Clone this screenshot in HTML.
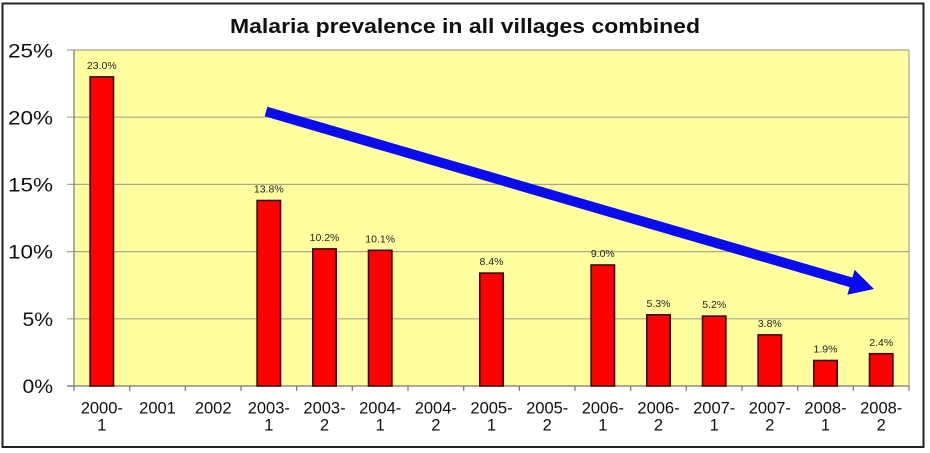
<!DOCTYPE html>
<html><head><meta charset="utf-8"><style>
html,body{margin:0;padding:0;background:#fff;}
svg{display:block;}
text{font-family:"Liberation Sans",Arial,sans-serif;}
</style></head><body>
<svg width="930" height="453" viewBox="0 0 930 453" xmlns="http://www.w3.org/2000/svg">
<rect x="0" y="0" width="930" height="453" fill="#fff"/>
<rect x="2.5" y="3.5" width="921" height="443.5" fill="#fff" stroke="#222" stroke-width="2"/>
<text x="465" y="33" text-anchor="middle" font-size="20" font-weight="bold" fill="#111" textLength="470" lengthAdjust="spacingAndGlyphs">Malaria prevalence in all villages combined</text>
<!-- plot area -->
<rect x="74" y="50" width="835" height="336" fill="#ffffa0"/>
<g stroke="#a9a78a" stroke-width="1.2">
<line x1="67" y1="50" x2="909" y2="50"/>
<line x1="67" y1="117.2" x2="909" y2="117.2"/>
<line x1="67" y1="184.4" x2="909" y2="184.4"/>
<line x1="67" y1="251.6" x2="909" y2="251.6"/>
<line x1="67" y1="318.8" x2="909" y2="318.8"/>
<line x1="909" y1="50" x2="909" y2="386"/>
</g>
<g stroke="#777" stroke-width="1.2">
<line x1="74" y1="50" x2="74" y2="391"/>
<line x1="67" y1="386" x2="909" y2="386"/>
<line x1="67" y1="386" x2="74" y2="386"/>
<line x1="129.7" y1="386" x2="129.7" y2="391"/>
<line x1="185.3" y1="386" x2="185.3" y2="391"/>
<line x1="241" y1="386" x2="241" y2="391"/>
<line x1="296.7" y1="386" x2="296.7" y2="391"/>
<line x1="352.3" y1="386" x2="352.3" y2="391"/>
<line x1="408" y1="386" x2="408" y2="391"/>
<line x1="463.7" y1="386" x2="463.7" y2="391"/>
<line x1="519.3" y1="386" x2="519.3" y2="391"/>
<line x1="575" y1="386" x2="575" y2="391"/>
<line x1="630.7" y1="386" x2="630.7" y2="391"/>
<line x1="686.3" y1="386" x2="686.3" y2="391"/>
<line x1="742" y1="386" x2="742" y2="391"/>
<line x1="797.7" y1="386" x2="797.7" y2="391"/>
<line x1="853.3" y1="386" x2="853.3" y2="391"/>
<line x1="909" y1="386" x2="909" y2="391"/>
</g>
<!-- y labels -->
<g font-size="19.5" fill="#111">
<text x="8" y="57.5" textLength="45" lengthAdjust="spacingAndGlyphs">25%</text>
<text x="8" y="124.5" textLength="45" lengthAdjust="spacingAndGlyphs">20%</text>
<text x="8" y="191.5" textLength="45" lengthAdjust="spacingAndGlyphs">15%</text>
<text x="8" y="258.5" textLength="45" lengthAdjust="spacingAndGlyphs">10%</text>
<text x="22.5" y="325.8" textLength="30.5" lengthAdjust="spacingAndGlyphs">5%</text>
<text x="22.5" y="393" textLength="30.5" lengthAdjust="spacingAndGlyphs">0%</text>
</g>
<!-- bars -->
<g fill="#ff0000" stroke="#3a0a0a" stroke-width="1.6">
<rect x="90.1" y="76.9" width="23.4" height="309.1"/>
<rect x="257.1" y="200.5" width="23.4" height="185.5"/>
<rect x="312.8" y="248.9" width="23.4" height="137.1"/>
<rect x="368.5" y="250.3" width="23.4" height="135.7"/>
<rect x="479.8" y="273.1" width="23.4" height="112.9"/>
<rect x="591.1" y="265.0" width="23.4" height="121.0"/>
<rect x="646.8" y="314.8" width="23.4" height="71.2"/>
<rect x="702.5" y="316.1" width="23.4" height="69.9"/>
<rect x="758.1" y="334.9" width="23.4" height="51.1"/>
<rect x="813.8" y="360.5" width="23.4" height="25.5"/>
<rect x="869.5" y="353.7" width="23.4" height="32.3"/>
</g>
<!-- data labels -->
<g font-size="10.5" fill="#222" text-anchor="middle">
<text x="101.8" y="69">23.0%</text>
<text x="268.8" y="192.6">13.8%</text>
<text x="324.5" y="241">10.2%</text>
<text x="380.2" y="242.4">10.1%</text>
<text x="491.5" y="265.2">8.4%</text>
<text x="602.8" y="257.1">9.0%</text>
<text x="658.5" y="306.9">5.3%</text>
<text x="714.2" y="308.2">5.2%</text>
<text x="769.8" y="327">3.8%</text>
<text x="825.5" y="352.6">1.9%</text>
<text x="881.2" y="345.8">2.4%</text>
</g>
<!-- x labels -->
<g font-size="16.5" fill="#111" text-anchor="middle">
<text x="101.8" y="413.3">2000-</text><text x="101.8" y="430.5">1</text>
<text x="157.5" y="413.3">2001</text>
<text x="213.2" y="413.3">2002</text>
<text x="268.8" y="413.3">2003-</text><text x="268.8" y="430.5">1</text>
<text x="324.5" y="413.3">2003-</text><text x="324.5" y="430.5">2</text>
<text x="380.2" y="413.3">2004-</text><text x="380.2" y="430.5">1</text>
<text x="435.8" y="413.3">2004-</text><text x="435.8" y="430.5">2</text>
<text x="491.5" y="413.3">2005-</text><text x="491.5" y="430.5">1</text>
<text x="547.2" y="413.3">2005-</text><text x="547.2" y="430.5">2</text>
<text x="602.8" y="413.3">2006-</text><text x="602.8" y="430.5">1</text>
<text x="658.5" y="413.3">2006-</text><text x="658.5" y="430.5">2</text>
<text x="714.2" y="413.3">2007-</text><text x="714.2" y="430.5">1</text>
<text x="769.8" y="413.3">2007-</text><text x="769.8" y="430.5">2</text>
<text x="825.5" y="413.3">2008-</text><text x="825.5" y="430.5">1</text>
<text x="881.2" y="413.3">2008-</text><text x="881.2" y="430.5">2</text>
</g>
<!-- arrow -->
<polygon fill="#0b0bf0" points="264.6,116.3 267.4,106.7 852.4,277.5 854.6,269.8 874,289 847.3,294.8 849.6,287.1"/>
</svg>
</body></html>
